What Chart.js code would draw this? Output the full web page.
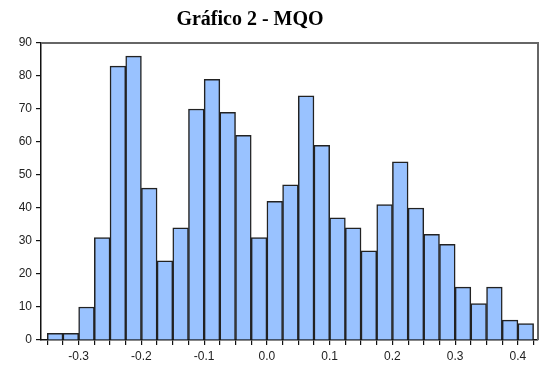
<!DOCTYPE html>
<html>
<head>
<meta charset="utf-8">
<script src="https://cdn.jsdelivr.net/npm/chart.js@4.4.1/dist/chart.umd.min.js"></script>
<style>
  html, body { margin: 0; padding: 0; background: #fff; }
  #wrap { width: 546px; height: 367px; }
</style>
</head>
<body>
<div id="wrap"><canvas id="myChart" width="546" height="367"></canvas></div>
<script>
// histogram bins (centres) and counts
const binCenters = [-0.3375, -0.3125, -0.2875, -0.2625, -0.2375, -0.2125, -0.1875, -0.1625,
    -0.1375, -0.1125, -0.0875, -0.0625, -0.0375, -0.0125, 0.0125, 0.0375, 0.0625, 0.0875,
    0.1125, 0.1375, 0.1625, 0.1875, 0.2125, 0.2375, 0.2625, 0.2875, 0.3125, 0.3375,
    0.3625, 0.3875, 0.4125];
const counts = [2, 2, 10, 31, 83, 86, 46, 24, 34, 70, 79, 69, 62, 31, 42, 47, 74, 59,
    37, 34, 27, 41, 54, 40, 32, 29, 16, 11, 16, 6, 5];
const binWidth = 0.025;
const xTickValues = [-0.3, -0.2, -0.1, 0.0, 0.1, 0.2, 0.3, 0.4];
const xTickLabels = ['-0.3', '-0.2', '-0.1', '0.0', '0.1', '0.2', '0.3', '0.4'];
const yTicks = [0, 10, 20, 30, 40, 50, 60, 70, 80, 90];
const chartTitle = 'Gráfico 2 - MQO';

const ctx = document.getElementById('myChart').getContext('2d');

// box round the plot (top and right side) + the title, which sits left of centre
const frame = {
    id: 'frame',
    afterDraw(chart) {
        const a = chart.chartArea;
        const c = chart.ctx;
        c.save();
        c.strokeStyle = '#666';
        c.lineWidth = 2;
        c.beginPath();
        c.moveTo(a.left, a.top);
        c.lineTo(a.right, a.top);
        c.lineTo(a.right, a.bottom);
        c.stroke();

        c.fillStyle = '#000';
        c.font = 'bold 20px "Liberation Serif", "Times New Roman", serif';
        c.textAlign = 'center';
        c.textBaseline = 'middle';
        c.fillText(chartTitle, 250, 20);
        c.restore();
    }
};

const data = {
    datasets: [{
        data: binCenters.map((x, i) => ({ x: x, y: counts[i] })),
        backgroundColor: 'rgb(153, 194, 255)',
        borderColor: '#222',
        borderWidth: 1.5,
        barPercentage: 1,
        categoryPercentage: 1
    }]
};

const tickFont = { family: 'Liberation Sans, Arial, sans-serif', size: 12 };

const config = {
    type: 'bar',
    data: data,
    options: {
        responsive: false,
        animation: false,
        layout: {
            padding: { left: 0, right: 8, top: 43, bottom: 0 }
        },
        scales: {
            x: {
                type: 'linear',
                min: -0.36,
                max: 0.432,
                offset: false,
                afterBuildTicks: function (scale) {
                    // a tick at every bin edge, labels only on the tenths
                    const edges = binCenters.map(c => c - binWidth / 2);
                    edges.push(binCenters[binCenters.length - 1] + binWidth / 2);
                    scale.ticks = edges.map(v => ({ value: v }));
                },
                afterFit: function (scale) { scale.height = 27; },
                border: { display: true, color: '#111', width: 1.5 },
                grid: {
                    offset: false,
                    drawOnChartArea: false,
                    drawTicks: true,
                    tickLength: 5,
                    lineWidth: 1.2,
                    color: '#111'
                },
                ticks: {
                    autoSkip: false,
                    maxRotation: 0,
                    padding: 4,
                    color: '#222',
                    font: tickFont,
                    callback: function (value) {
                        const k = xTickValues.findIndex(t => Math.abs(t - value) < 1e-6);
                        return k >= 0 ? xTickLabels[k] : '';
                    }
                }
            },
            y: {
                min: 0,
                max: 90,
                afterBuildTicks: function (scale) {
                    scale.ticks = yTicks.map(v => ({ value: v }));
                },
                afterFit: function (scale) { scale.width = 41; },
                border: { display: true, color: '#111', width: 1.5 },
                grid: {
                    drawOnChartArea: false,
                    drawTicks: true,
                    tickLength: 5,
                    lineWidth: 1.2,
                    color: '#111'
                },
                ticks: {
                    padding: 4,
                    color: '#222',
                    font: tickFont
                }
            }
        },
        plugins: {
            legend: { display: false },
            tooltip: { enabled: false },
            title: { display: false }
        }
    },
    plugins: [frame]
};

const myChart = new Chart(ctx, config);
</script>
</body>
</html>
